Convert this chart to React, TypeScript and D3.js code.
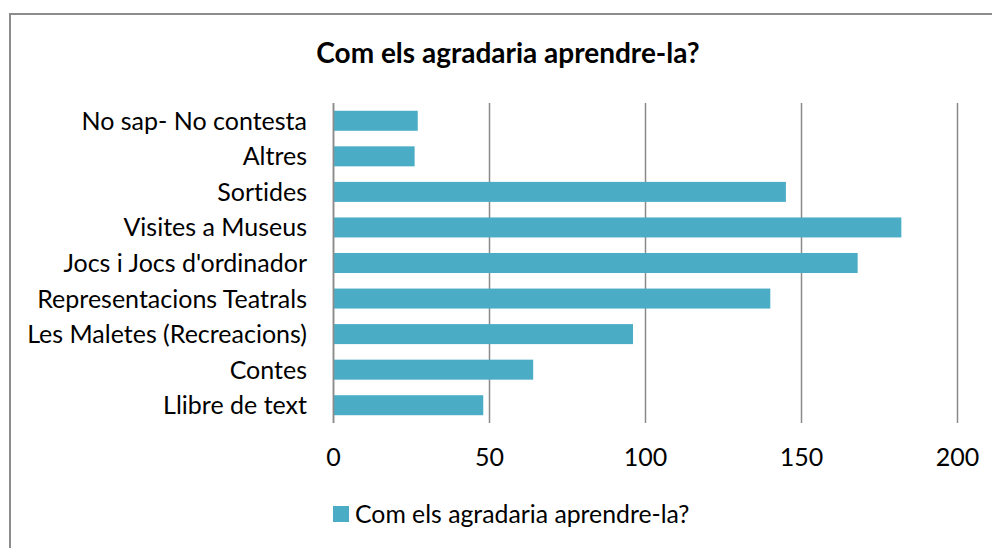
import React from "react";
import * as d3 from "d3";

const categories = [
  "No sap- No contesta",
  "Altres",
  "Sortides",
  "Visites a Museus",
  "Jocs i Jocs d'ordinador",
  "Representacions Teatrals",
  "Les Maletes (Recreacions)",
  "Contes",
  "Llibre de text",
];
const values = [27, 26, 145, 182, 168, 140, 96, 64, 48];
const ticks = [0, 50, 100, 150, 200];
const title = "Com els agradaria aprendre-la?";
const seriesName = "Com els agradaria aprendre-la?";

const W = 992;
const H = 548;
const FONT = "Lato, 'Open Sans', sans-serif";
const BAR = "#4BACC6";
const GRID = "#8A8A8A";

export default function App() {
  const x = d3.scaleLinear().domain([0, 200]).range([333.5, 957.5]);
  const y = d3
    .scaleBand<string>()
    .domain(categories)
    .range([103, 423])
    .paddingInner(0.4375)
    .paddingOuter(0.21875);
  const data = categories.map((c, i) => ({ c, v: values[i] }));
  return (
    <svg
      width={W}
      height={H}
      style={{
        position: "absolute",
        left: 0,
        top: 0,
        display: "block",
        fontVariantLigatures: "none",
        fontFeatureSettings: "'liga' 0, 'clig' 0",
      }}
      fontFamily={FONT}
    >
      <rect x={0} y={0} width={W} height={H} fill="#fff" />
      <rect x={10} y={14} width={1000} height={600} fill="#fff" stroke="#8C8C8C" strokeWidth={2} />
      <text x={508} y={63} textAnchor="middle" fontSize={28} fontWeight="bold" fill="#000">
        {title}
      </text>
      {ticks.map((t) => (
        <line key={"g" + t} x1={x(t)} x2={x(t)} y1={103} y2={423} stroke={GRID} strokeWidth={1.5} />
      ))}
      {data.map((d) => (
        <rect key={d.c} x={x(0)} y={y(d.c)} width={x(d.v) - x(0)} height={y.bandwidth()} fill={BAR} />
      ))}
      <line x1={x(0)} x2={x(0)} y1={103} y2={423} stroke={GRID} strokeWidth={1.5} />
      {data.map((d) => (
        <text
          key={"l" + d.c}
          x={307}
          y={(y(d.c) as number) + y.bandwidth() / 2}
          dy="0.36em"
          textAnchor="end"
          fontSize={25}
          fill="#000"
        >
          {d.c}
        </text>
      ))}
      {ticks.map((t) => (
        <text key={"t" + t} x={x(t)} y={466} textAnchor="middle" fontSize={25} fill="#000">
          {t}
        </text>
      ))}
      <rect x={333} y={506} width={16} height={16} fill={BAR} />
      <text x={355} y={523} fontSize={24.8} fill="#000">
        {seriesName}
      </text>
    </svg>
  );
}
